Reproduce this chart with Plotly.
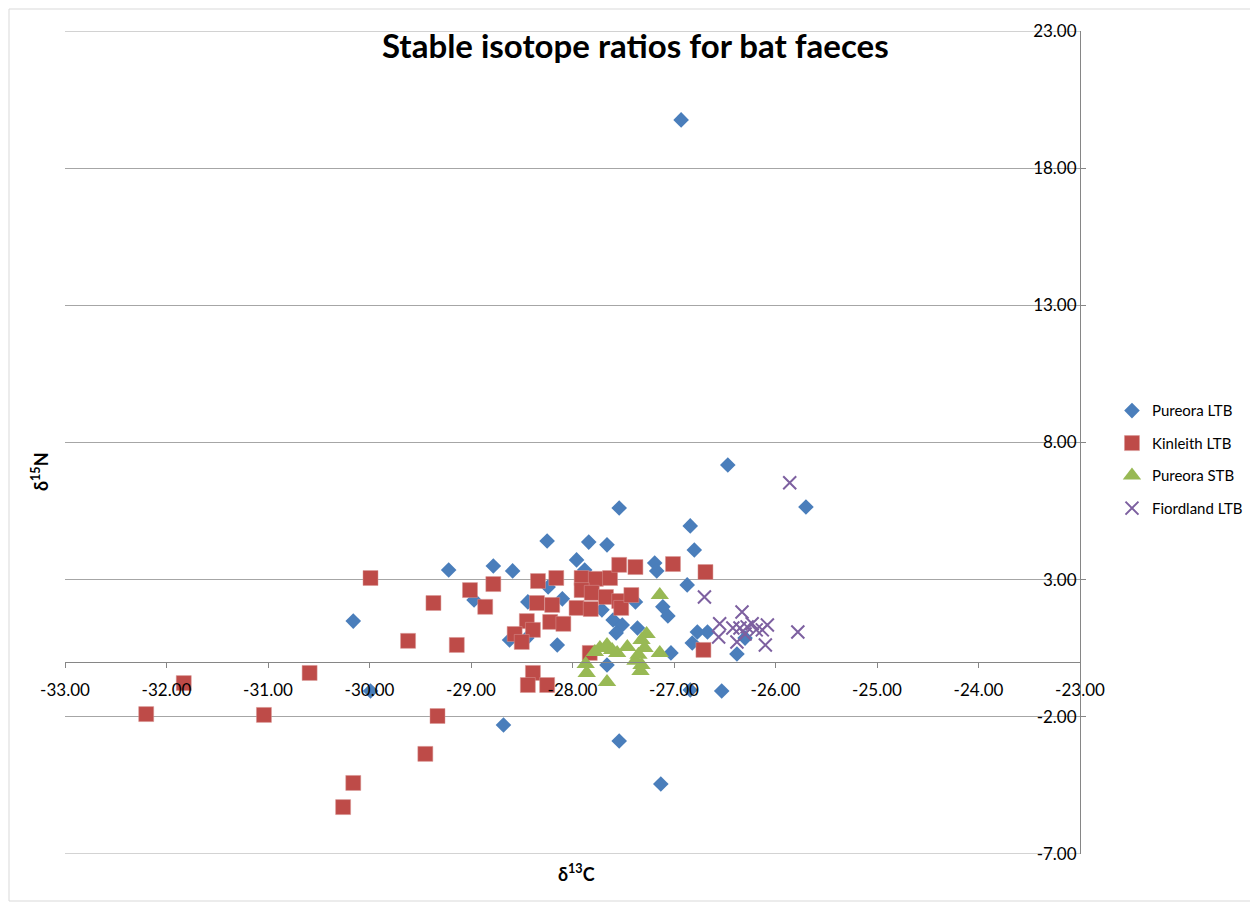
import plotly.graph_objects as go

# Pureora LTB
pur_ltb_x = [-26.93, -26.47, -25.70, -27.54, -26.84, -28.25, -27.84, -27.66, -26.80, -27.96,
             -28.78, -27.19, -27.17, -29.22, -28.59, -27.88, -26.87, -28.24, -28.97, -28.44,
             -28.10, -27.38, -27.11, -27.06, -30.16, -27.60, -27.71, -27.51, -27.36, -26.77,
             -26.67, -27.57, -28.62, -28.45, -28.15, -26.82, -26.30, -26.38, -27.03, -27.66,
             -29.99, -26.84, -26.53, -28.68, -27.54, -27.13]
pur_ltb_y = [19.76, 7.18, 5.65, 5.61, 4.96, 4.41, 4.37, 4.27, 4.08, 3.72,
             3.50, 3.61, 3.32, 3.35, 3.32, 3.35, 2.81, 2.73, 2.26, 2.19,
             2.30, 2.19, 2.01, 1.68, 1.49, 1.53, 1.90, 1.35, 1.24, 1.09,
             1.09, 1.06, 0.80, 0.87, 0.62, 0.69, 0.87, 0.29, 0.33, -0.11,
             -1.06, -1.02, -1.06, -2.30, -2.88, -4.45]

# Kinleith LTB
kin_ltb_x = [-32.20, -31.83, -31.04, -30.59, -30.26, -30.16, -29.99, -29.62, -29.37, -29.33,
             -29.45, -29.14, -29.01, -28.86, -28.78, -28.34, -28.16, -27.91, -27.77, -27.63,
             -27.54, -27.38, -27.01, -26.69, -27.91, -27.81, -27.67, -27.54, -27.52, -27.42,
             -28.35, -28.20, -27.96, -27.82, -28.45, -28.22, -28.09, -28.39, -28.57, -28.50,
             -27.83, -26.71, -28.39, -28.44, -28.25]
kin_ltb_y = [-1.90, -0.77, -1.93, -0.40, -5.29, -4.41, 3.06, 0.77, 2.15, -1.97,
             -3.35, 0.62, 2.62, 2.01, 2.84, 2.95, 3.06, 3.06, 3.03, 3.06,
             3.54, 3.46, 3.57, 3.28, 2.62, 2.52, 2.37, 2.22, 1.97, 2.44,
             2.15, 2.08, 1.97, 1.93, 1.49, 1.46, 1.39, 1.17, 1.02, 0.73,
             0.33, 0.44, -0.40, -0.84, -0.84]

# Pureora STB
pur_stb_x = [-27.14, -27.27, -27.32, -27.73, -27.66, -27.56, -27.46, -27.29, -27.14, -27.87,
             -27.86, -27.66, -27.38, -27.32, -27.33, -27.35, -27.61, -27.78]
pur_stb_y = [2.44, 1.02, 0.80, 0.51, 0.62, 0.33, 0.55, 0.51, 0.33, -0.07,
             -0.40, -0.73, 0.04, -0.11, -0.33, 0.26, 0.44, 0.36]

# Fiordland LTB
fio_ltb_x = [-25.86, -26.70, -26.33, -26.55, -26.42, -26.35, -26.28, -26.23, -26.19, -26.08,
             -26.13, -26.56, -26.38, -26.10, -25.78, -26.30]
fio_ltb_y = [6.53, 2.37, 1.82, 1.39, 1.24, 1.24, 1.28, 1.39, 1.17, 1.35,
             1.17, 0.91, 0.73, 0.62, 1.09, 1.02]

x_ticks = [-33, -32, -31, -30, -29, -28, -27, -26, -25, -24, -23]
y_ticks = [-7, -2, 3, 8, 13, 18, 23]
x_tick_text = [f"{v:.2f}" for v in x_ticks]
y_tick_text = [f"{v:.2f}" for v in y_ticks]

FONT = "Lato"
GRID = "#A6A6A6"
AXIS = "#868686"

fig = go.Figure()
fig.add_trace(go.Scatter(x=pur_ltb_x, y=pur_ltb_y, mode="markers", name="Pureora LTB",
                         legendgroup="a",
                         marker=dict(symbol="diamond", size=12, color="#4A7EBB",
                                     line=dict(width=0))))
fig.add_trace(go.Scatter(x=kin_ltb_x, y=kin_ltb_y, mode="markers", name="Kinleith LTB",
                         legendgroup="b",
                         marker=dict(symbol="square", size=15, color="#BE4B48",
                                     line=dict(width=0.5, color="#D99694"))))
fig.add_trace(go.Scatter(x=pur_stb_x, y=pur_stb_y, mode="markers", name="Pureora STB",
                         legendgroup="c",
                         marker=dict(symbol="triangle-up", size=16, color="#98B954",
                                     line=dict(width=0))))
fig.add_trace(go.Scatter(x=fio_ltb_x, y=fio_ltb_y, mode="markers", name="Fiordland LTB",
                         legendgroup="d",
                         marker=dict(symbol="x-thin-open", size=13, color="#7D60A0",
                                     line=dict(width=2, color="#7D60A0"))))

# edge gridlines at the top and bottom of the y range
edge_shapes = [dict(type="line", xref="paper", yref="y", x0=0, x1=1,
                    y0=v, y1=v, line=dict(color=GRID, width=1), layer="below")
               for v in (y_ticks[0], y_ticks[-1])]

fig.update_layout(
    width=1250, height=898,
    margin=dict(l=57, r=178, t=23, b=52, autoexpand=False),
    paper_bgcolor="white", plot_bgcolor="white",
    font=dict(family=FONT, size=16, color="#000000"),
    showlegend=True,
    legend=dict(x=1.0315, y=0.5585, xanchor="left", yanchor="top",
                font=dict(family=FONT, size=15), traceorder="grouped",
                tracegroupgap=10, itemsizing="trace"),
    xaxis=dict(range=[-33, -23], tickvals=x_ticks, ticktext=x_tick_text,
               anchor="free", position=7/30, showgrid=False, zeroline=False,
               showline=True, linecolor=AXIS, linewidth=1,
               ticks="outside", ticklen=5, tickcolor=AXIS,
               ticklabelstandoff=8, automargin=False,
               tickfont=dict(family=FONT, size=17)),
    yaxis=dict(range=[-7, 23], tickvals=y_ticks, ticktext=y_tick_text,
               side="left", anchor="free", position=1.0,
               showgrid=True, gridcolor=GRID, gridwidth=1, zeroline=False,
               showline=True, linecolor=AXIS, linewidth=1,
               ticks="inside", ticklen=5, tickcolor=AXIS, automargin=False,
               tickfont=dict(family=FONT, size=17)),
    annotations=[
        dict(text="<b>Stable isotope ratios for bat faeces</b>", xref="paper", yref="paper",
             x=(635 - 65) / 1015, y=1 - (45 - 31) / 823, xanchor="center", yanchor="middle",
             showarrow=False, font=dict(family=FONT, size=33)),
        dict(text="<b>δ<sup>13</sup>C</b>", xref="paper", yref="paper",
             x=(576 - 65) / 1015, y=-(873 - 854) / 823, xanchor="center", yanchor="middle",
             showarrow=False, font=dict(family=FONT, size=18)),
        dict(text="<b>δ<sup>15</sup>N</b>", xref="paper", yref="paper",
             x=-(65 - 40) / 1015, y=(854 - 472) / 823, xanchor="center", yanchor="middle",
             textangle=-90, showarrow=False, font=dict(family=FONT, size=18)),
    ],
    shapes=edge_shapes + [dict(type="rect", xref="paper", yref="paper",
                 x0=-56 / 1015, x1=(1255 - 65) / 1015, y0=-(901 - 854) / 823, y1=1 + 22 / 823,
                 line=dict(color="#D9D9D9", width=1), layer="below")],
)

fig.write_html("out.html")
